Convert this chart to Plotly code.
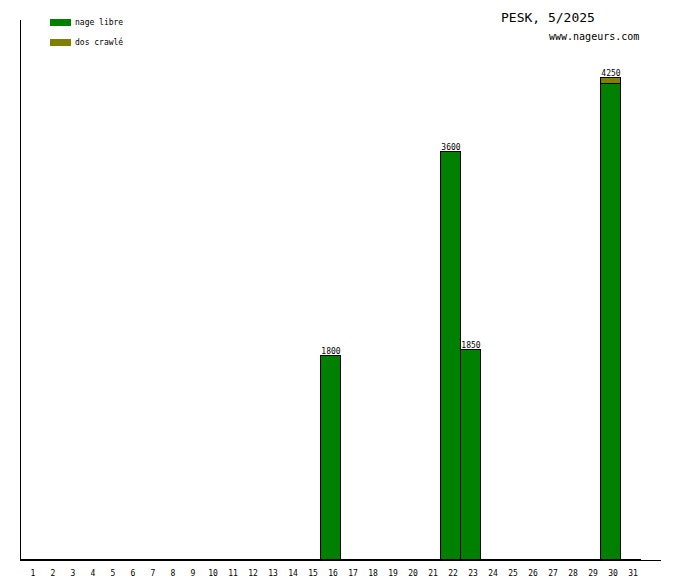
import plotly.graph_objects as go

days = list(range(1, 32))
series_names = ["nage libre", "dos crawlé"]
nage_libre = [0]*31
dos_crawle = [0]*31
for d, v in [(16, 1800), (22, 3600), (23, 1850), (30, 4200)]:
    nage_libre[d-1] = v
for d, v in [(30, 50)]:
    dos_crawle[d-1] = v
colors = ["#008000", "#808000"]
title_text = "PESK, 5/2025"
site_text = "www.nageurs.com"

totals = [a + b for a, b in zip(nage_libre, dos_crawle)]
lab_x = [d for d, t in zip(days, totals) if t > 0]
lab_y = [t for t in totals if t > 0]

mono = "DejaVu Sans Mono"
fig = go.Figure()
for name, vals, c in zip(series_names, [nage_libre, dos_crawle], colors):
    fig.add_trace(go.Bar(x=days, y=vals, name=name, width=1,
                         marker=dict(color=c, line=dict(color="black", width=1)),
                         showlegend=False, hoverinfo="skip"))
fig.add_trace(go.Scatter(x=lab_x, y=lab_y, mode="text", text=[str(v) for v in lab_y],
                         textposition="top center", textfont=dict(family=mono, size=8, color="black"),
                         showlegend=False, hoverinfo="skip", cliponaxis=False))

# page body has an 8px margin; compensate so the plot area sits at x 20..660, y 20..560
fig.update_layout(
    width=680, height=580, barmode="stack", bargap=0,
    margin=dict(l=13, r=27, t=12, b=28, autoexpand=False),
    plot_bgcolor="white", paper_bgcolor="white",
    font=dict(family=mono, size=8, color="black"),
    xaxis=dict(range=[0.5, 32.5], tickmode="array", tickvals=days, ticktext=[str(d) for d in days],
               showgrid=False, zeroline=False, showline=True, linecolor="black", linewidth=1,
               ticks="", tickfont=dict(family=mono, size=8), ticklabelshift=2, ticklabelstandoff=5,
               automargin=False),
    yaxis=dict(range=[0, 4765], showgrid=False, zeroline=False, showline=True, linecolor="black",
               linewidth=1, showticklabels=False, ticks="", automargin=False),
)

def px(x):
    return (x - 20) / 640
def py(y):
    return (560 - y) / 540
for i, (name, c) in enumerate(zip(series_names, colors)):
    y0 = 19 + 20*i
    fig.add_shape(type="rect", xref="paper", yref="paper", x0=px(49), x1=px(70),
                  y0=py(y0+7), y1=py(y0), fillcolor=c, line=dict(width=0))
    fig.add_annotation(xref="paper", yref="paper", x=px(72), y=py(y0+3.5), text=name,
                       showarrow=False, xanchor="left", yanchor="middle",
                       font=dict(family=mono, size=8, color="black"))

fig.add_annotation(xref="paper", yref="paper", x=px(547), y=py(18), text=title_text,
                   showarrow=False, xanchor="center", yanchor="middle",
                   font=dict(family=mono, size=13, color="black"))
fig.add_annotation(xref="paper", yref="paper", x=px(593), y=py(37), text=site_text,
                   showarrow=False, xanchor="center", yanchor="middle",
                   font=dict(family=mono, size=10, color="black"))

fig.write_html("out.html", config={"displayModeBar": False})
